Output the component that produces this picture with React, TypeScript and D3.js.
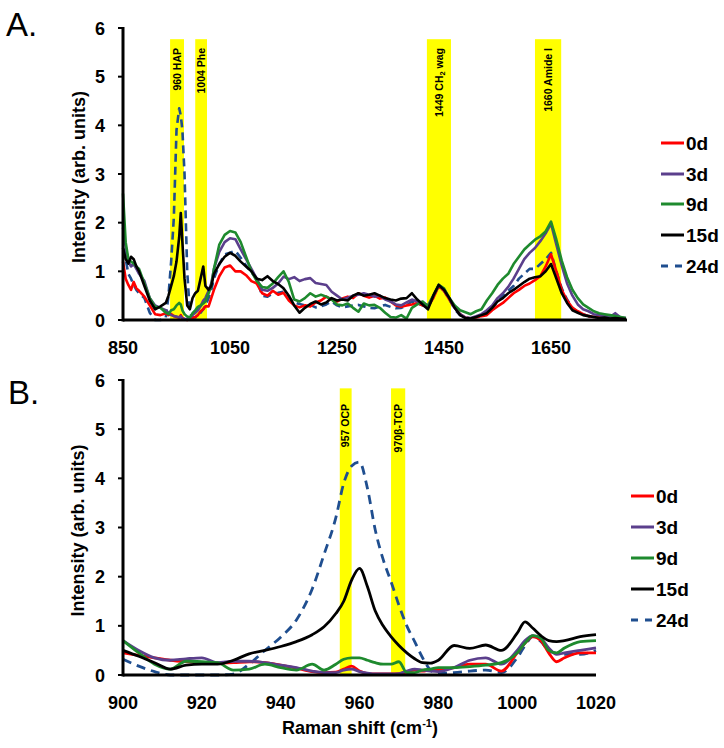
import React from "react";
import * as d3 from "d3";

const seriesNames = ["0d", "3d", "9d", "15d", "24d"];
const seriesColors = ["#ff0000", "#5b3f8c", "#1e8a2e", "#000000", "#1f4e8f"];
const drawOrder = [4, 0, 1, 2, 3];

// Panel A: Raman shift (cm-1)
const xA = [
  850, 855, 860, 865, 870, 875, 880, 890, 900, 910, 920, 930, 935, 940, 945, 950, 955, 958, 961, 965,
  970, 975, 980, 985, 990, 995, 1000, 1004, 1010, 1015, 1020, 1030, 1040, 1050, 1060, 1070, 1080, 1090, 1100,
  1110, 1120, 1130, 1140, 1150, 1160, 1170, 1180, 1190, 1200, 1210, 1220, 1230, 1240, 1250, 1260, 1270, 1280, 1290, 1300,
  1310, 1320, 1330, 1340, 1350, 1360, 1370, 1380, 1390, 1400,
  1410, 1420, 1430, 1440, 1450, 1460, 1470, 1480, 1490, 1500, 1510, 1520, 1530, 1540, 1550, 1560, 1570, 1580, 1590, 1600,
  1610, 1620, 1630, 1640, 1650, 1660, 1670, 1680, 1690, 1700, 1710, 1720, 1730, 1740, 1750, 1760, 1770, 1780, 1790,
];
const a0d = [
  1.2, 0.85, 0.72, 0.62, 0.78, 0.65, 0.6, 0.48, 0.3, 0.12, 0.1, 0.14, 0.1, 0.12, 0.08, 0.06, 0.05, 0.1, 0.04, 0.02,
  0.0, 0.02, 0.04, 0.06, 0.1, 0.18, 0.22, 0.28, 0.28, 0.45, 0.62, 0.9, 1.08, 1.12, 1.0, 1.0, 0.92, 0.8, 0.75,
  0.55, 0.5, 0.6, 0.52, 0.56, 0.4, 0.3, 0.26, 0.3, 0.28, 0.36, 0.4, 0.48, 0.42, 0.38, 0.44, 0.48, 0.45, 0.55, 0.5,
  0.46, 0.5, 0.44, 0.46, 0.38, 0.3, 0.27, 0.3, 0.32, 0.35,
  0.3, 0.28, 0.45, 0.7, 0.6, 0.42, 0.25, 0.12, 0.05, 0.03, 0.05, 0.08, 0.1, 0.2, 0.28, 0.35, 0.45, 0.55, 0.62, 0.7,
  0.75, 0.82, 0.9, 1.1, 1.35, 1.0, 0.62, 0.4, 0.25, 0.18, 0.12, 0.08, 0.06, 0.07, 0.04, 0.05, 0.03, 0.04, 0.02,
];
const a3d = [
  1.9, 1.5, 1.2, 1.1, 1.15, 1.05, 0.95, 0.8, 0.45, 0.3, 0.25, 0.2, 0.15, 0.1, 0.08, 0.07, 0.05, 0.08, 0.03, 0.02,
  0.02, 0.05, 0.1, 0.15, 0.2, 0.28, 0.4, 0.45, 0.6, 0.75, 1.05, 1.4, 1.6, 1.68, 1.66, 1.45, 1.25, 1.05, 0.85,
  0.62, 0.6, 0.66, 0.75, 0.89, 0.84, 0.88, 0.8, 0.84, 0.86, 0.76, 0.74, 0.72, 0.58, 0.5, 0.42, 0.46, 0.5, 0.52, 0.55,
  0.52, 0.48, 0.5, 0.42, 0.38, 0.32, 0.3, 0.36, 0.42, 0.38,
  0.36, 0.3, 0.5, 0.72, 0.62, 0.45, 0.25, 0.12, 0.05, 0.04, 0.08, 0.12, 0.2, 0.3, 0.45, 0.55, 0.68, 0.85, 1.05, 1.25,
  1.38, 1.48, 1.62, 1.78, 1.98, 1.55, 1.12, 0.75, 0.5, 0.32, 0.22, 0.18, 0.12, 0.1, 0.08, 0.06, 0.14, 0.05, 0.04,
];
const a9d = [
  2.6, 1.6, 1.25, 1.2, 1.16, 1.1, 1.05, 0.75, 0.45, 0.27, 0.25, 0.15, 0.12, 0.2, 0.22, 0.3, 0.35, 0.32, 0.2, 0.12,
  0.07, 0.05, 0.14, 0.2, 0.27, 0.3, 0.34, 0.38, 0.55, 0.7, 1.05, 1.55, 1.75, 1.83, 1.8, 1.6, 1.3, 1.0, 0.8,
  0.68, 0.66, 0.75, 0.88, 1.0, 0.78, 0.42, 0.38, 0.45, 0.55, 0.48, 0.52, 0.48, 0.42, 0.32, 0.3, 0.34, 0.25, 0.17, 0.34,
  0.3, 0.31, 0.25, 0.15, 0.06, 0.05, 0.1, 0.03, 0.25, 0.32,
  0.38, 0.28, 0.5, 0.72, 0.65, 0.45, 0.3, 0.2, 0.16, 0.12, 0.18, 0.22, 0.4, 0.55, 0.72, 0.85, 0.95, 1.15, 1.3, 1.45,
  1.55, 1.65, 1.72, 1.82, 2.02, 1.65, 1.22, 0.88, 0.62, 0.45, 0.32, 0.25, 0.18, 0.14, 0.12, 0.1, 0.08, 0.06, 0.04,
];
const a15d = [
  1.48, 1.25, 1.16, 1.3, 1.25, 1.1, 1.0, 0.7, 0.4, 0.22, 0.28, 0.35, 0.5, 0.7, 0.9, 1.2, 1.7, 2.2, 1.6, 0.85,
  0.3, 0.22, 0.45, 0.55, 0.6, 0.85, 1.1, 0.7, 0.62, 0.7, 0.95, 1.15, 1.3, 1.38, 1.32, 1.2, 1.1, 1.0, 0.85,
  0.82, 0.9, 0.8, 0.74, 0.65, 0.5, 0.3, 0.15, 0.25, 0.33, 0.38, 0.32, 0.36, 0.45, 0.4, 0.42, 0.4, 0.5, 0.55, 0.5,
  0.52, 0.55, 0.5, 0.45, 0.42, 0.4, 0.44, 0.45, 0.55, 0.42,
  0.32, 0.22, 0.5, 0.72, 0.62, 0.45, 0.25, 0.1, 0.04, 0.03, 0.06, 0.1, 0.14, 0.25, 0.38, 0.45, 0.55, 0.62, 0.7, 0.78,
  0.85, 0.88, 0.9, 1.0, 1.15, 0.85, 0.55, 0.35, 0.2, 0.15, 0.1, 0.08, 0.06, 0.04, 0.05, 0.03, 0.04, 0.03, 0.02,
];
const a24d = [
  2.0, 1.25, 0.95, 0.85, 0.72, 0.62, 0.55, 0.45, 0.15, 0.0, 0.0, 0.05, 0.5, 1.2, 2.1, 3.9, 4.35, 4.2, 3.9, 3.0,
  1.0, 0.15, 0.05, 0.05, 0.1, 0.15, 0.22, 0.3, 0.45, 0.62, 0.85, 1.15, 1.35, 1.38, 1.42, 1.28, 1.12, 0.98, 0.85,
  0.5, 0.48, 0.55, 0.56, 0.58, 0.45, 0.36, 0.33, 0.3, 0.31, 0.26, 0.28, 0.32, 0.38, 0.3, 0.26, 0.28, 0.3, 0.31, 0.28,
  0.25, 0.24, 0.28, 0.31, 0.27, 0.24, 0.25, 0.3, 0.38, 0.34,
  0.3, 0.25, 0.48, 0.7, 0.6, 0.42, 0.22, 0.1, 0.05, 0.03, 0.06, 0.1, 0.14, 0.25, 0.36, 0.5, 0.6, 0.7, 0.85, 0.95,
  1.05, 1.05, 1.15, 1.25, 1.38, 1.0, 0.65, 0.42, 0.25, 0.16, 0.12, 0.08, 0.06, 0.05, 0.04, 0.05, 0.03, 0.04, 0.02,
];
const xTicksA = [850, 1050, 1250, 1450, 1650];
const bandAStart = [938, 985, 1418, 1620];
const bandAEnd = [964, 1007, 1463, 1669];
const bandALabels = ["960 HAP", "1004 Phe", "1449 CH2 wag", "1660 Amide I"];
const bandTopA = 5.77;

// Panel B
const xB = [
  900, 904, 908, 912, 916, 920, 924, 928, 932, 936, 940, 944, 948,
  951, 954, 956, 958, 960, 962, 964, 966, 968, 970, 972, 974, 976, 978, 980,
  984, 988, 992, 996, 1000, 1002, 1004, 1006, 1008, 1010, 1012, 1016, 1020,
];
const b0d = [
  0.45, 0.4, 0.35, 0.3, 0.27, 0.25, 0.24, 0.25, 0.27, 0.25, 0.2, 0.14, 0.07,
  0.05, 0.06, 0.12, 0.18, 0.08, 0.03, 0.02, 0.02, 0.02, 0.03, 0.06, 0.1, 0.08, 0.1, 0.1,
  0.15, 0.22, 0.22, 0.08, 0.45, 0.65, 0.78, 0.7, 0.45, 0.27, 0.35, 0.45, 0.45,
];
const b3d = [
  0.7, 0.5, 0.35, 0.3, 0.33, 0.35, 0.25, 0.28, 0.28, 0.25, 0.2, 0.15, 0.08,
  0.05, 0.05, 0.1, 0.12, 0.07, 0.04, 0.02, 0.02, 0.02, 0.03, 0.08, 0.12, 0.1, 0.08, 0.07,
  0.15, 0.3, 0.35, 0.22, 0.5, 0.7, 0.8, 0.75, 0.55, 0.42, 0.45, 0.5, 0.55,
];
const b9d = [
  0.7, 0.45, 0.22, 0.12, 0.28, 0.27, 0.25, 0.1, 0.12, 0.22, 0.15, 0.1, 0.22,
  0.1, 0.22, 0.32, 0.35, 0.35, 0.3, 0.25, 0.22, 0.22, 0.27, 0.05, 0.05, 0.1, 0.12, 0.15,
  0.15, 0.17, 0.2, 0.25, 0.45, 0.65, 0.8, 0.75, 0.5, 0.45, 0.55, 0.68, 0.7,
];
const b15d = [
  0.5, 0.38, 0.25, 0.12, 0.2, 0.22, 0.22, 0.3, 0.43, 0.5, 0.58, 0.68, 0.82,
  0.98, 1.25, 1.5, 1.93, 2.17, 1.8, 1.3, 1.0, 0.78, 0.6, 0.45, 0.33, 0.25, 0.24, 0.3,
  0.6, 0.54, 0.61, 0.5, 0.85, 1.08, 0.95, 0.8, 0.7, 0.68, 0.7, 0.78, 0.82,
];
const b24d = [
  0.32, 0.18, 0.07, 0.0, 0.0, 0.0, 0.0, 0.02, 0.22, 0.5, 0.77, 1.12, 1.75,
  2.45, 3.2, 3.9, 4.25, 4.33, 3.8, 2.95, 2.35, 1.9, 1.42, 1.0, 0.68, 0.35, 0.1, 0.03,
  0.05, 0.08, 0.1, 0.05, 0.35, 0.6, 0.78, 0.68, 0.5, 0.44, 0.42, 0.42, 0.5,
];
const xTicksB = [900, 920, 940, 960, 980, 1000, 1020];
const bandBStart = [955, 968];
const bandBEnd = [958, 971.6];
const bandBLabels = ["957 OCP", "970β-TCP"];
const bandTopB = 5.83;

const yTicks = [0, 1, 2, 3, 4, 5, 6];

const FONT = "'Liberation Sans', Arial, sans-serif";

function BandLabel({ text, x, y }: { text: string; x: number; y: number }) {
  const idx = text.indexOf("CH2");
  const common = {
    transform: `translate(${x},${y}) rotate(-90)`,
    textAnchor: "end" as const,
    dy: "0.35em",
    fontSize: 10.5,
    fontWeight: "bold" as const,
    fill: "#000",
    fontFamily: FONT,
  };
  if (idx >= 0) {
    return (
      <text {...common}>
        {text.slice(0, idx + 2)}
        <tspan fontSize={7.5} dy={2}>2</tspan>
        <tspan dy={-2}>{text.slice(idx + 3)}</tspan>
      </text>
    );
  }
  return <text {...common}>{text}</text>;
}

type PanelProps = {
  xs: number[];
  series: number[][];
  xDomain: [number, number];
  xRange: [number, number];
  yRange: [number, number];
  xTicks: number[];
  bandStart: number[];
  bandEnd: number[];
  bandLabels: string[];
  bandTop: number;
  labelTop: number;
  smooth: boolean;
  dash: string;
  strokeW: number;
  legendX: number;
  legendYs: number[];
  yTitleX: number;
};

function Panel(p: PanelProps) {
  const x = d3.scaleLinear().domain(p.xDomain).range(p.xRange);
  const y = d3.scaleLinear().domain([0, 6]).range(p.yRange);
  const line = d3
    .line<number>()
    .x((_, i) => x(p.xs[i]))
    .y((d) => y(d))
    .curve(p.smooth ? d3.curveMonotoneX : d3.curveLinear);
  const [y0, y6] = [y(0), y(6)];
  const [xl, xr] = p.xRange;
  return (
    <g>
      {p.bandStart.map((s, i) => (
        <rect key={"b" + i} x={x(s)} y={y(p.bandTop)} width={x(p.bandEnd[i]) - x(s)} height={y(0) - y(p.bandTop)} fill="#ffff00" />
      ))}
      {p.bandStart.map((s, i) => (
        <BandLabel key={"bl" + i} text={p.bandLabels[i]} x={(x(s) + x(p.bandEnd[i])) / 2} y={p.labelTop} />
      ))}
      {drawOrder.map((k) => (
        <path
          key={"s" + k}
          d={line(p.series[k]) || ""}
          fill="none"
          stroke={seriesColors[k]}
          strokeWidth={p.strokeW}
          strokeDasharray={k === 4 ? p.dash : undefined}
          strokeLinejoin="round"
        />
      ))}
      <line x1={xl} x2={xr} y1={y0} y2={y0} stroke="#000" strokeWidth={3} />
      <line x1={xl} x2={xl} y1={y6 - 1} y2={y0 + 1.5} stroke="#000" strokeWidth={3} />
      {yTicks.map((t) => (
        <g key={"yt" + t}>
          <line x1={xl - 5} x2={xl} y1={y(t)} y2={y(t)} stroke="#000" strokeWidth={2} />
          <text x={xl - 18} y={y(t) + 6.5} textAnchor="end" fontSize={18} fontWeight="bold" fontFamily={FONT}>
            {t}
          </text>
        </g>
      ))}
      {p.xTicks.map((t) => (
        <text key={"xt" + t} x={x(t)} y={y0 + 34} textAnchor="middle" fontSize={18} fontWeight="bold" fontFamily={FONT}>
          {t}
        </text>
      ))}
      <text
        transform={`translate(${p.yTitleX},${(y0 + y6) / 2 + 3}) rotate(-90)`}
        textAnchor="middle"
        fontSize={18}
        fontWeight="bold"
        fontFamily={FONT}
      >
        Intensity (arb. units)
      </text>
      {seriesNames.map((n, k) => (
        <g key={"lg" + k}>
          <line
            x1={p.legendX}
            x2={p.legendX + 23}
            y1={p.legendYs[k]}
            y2={p.legendYs[k]}
            stroke={seriesColors[k]}
            strokeWidth={3}
            strokeDasharray={k === 4 ? "7,7" : undefined}
          />
          <text x={p.legendX + 25} y={p.legendYs[k] + 7} fontSize={19} fontWeight="bold" fontFamily={FONT}>
            {n}
          </text>
        </g>
      ))}
    </g>
  );
}

export default function App() {
  return (
    <svg width={724} height={748} style={{ position: "absolute", left: 0, top: 0, background: "#fff" }}>
      <rect x={0} y={0} width={724} height={748} fill="#fff" />
      <text x={6} y={36} fontSize={33} fontFamily={FONT}>A.</text>
      <text x={8} y={404} fontSize={33} fontFamily={FONT}>B.</text>
      <Panel
        xs={xA}
        series={[a0d, a3d, a9d, a15d, a24d]}
        xDomain={[850, 1792]}
        xRange={[123, 627]}
        yRange={[320, 28]}
        xTicks={xTicksA}
        bandStart={bandAStart}
        bandEnd={bandAEnd}
        bandLabels={bandALabels}
        bandTop={bandTopA}
        labelTop={48}
        smooth={false}
        dash="8,5"
        strokeW={2.6}
        legendX={661}
        legendYs={[143, 174, 204, 235, 266]}
        yTitleX={85}
      />
      <Panel
        xs={xB}
        series={[b0d, b3d, b9d, b15d, b24d]}
        xDomain={[900, 1020]}
        xRange={[123, 596]}
        yRange={[675, 380]}
        xTicks={xTicksB}
        bandStart={bandBStart}
        bandEnd={bandBEnd}
        bandLabels={bandBLabels}
        bandTop={bandTopB}
        labelTop={404}
        smooth={true}
        dash="9,6"
        strokeW={2.8}
        legendX={631}
        legendYs={[496, 527, 558, 589, 620]}
        yTitleX={84}
      />
      <text x={360} y={734} textAnchor="middle" fontSize={18} fontWeight="bold" fontFamily={FONT}>
        Raman shift (cm<tspan fontSize={11} dy={-7}>-1</tspan>
        <tspan dy={7}>)</tspan>
      </text>
    </svg>
  );
}
